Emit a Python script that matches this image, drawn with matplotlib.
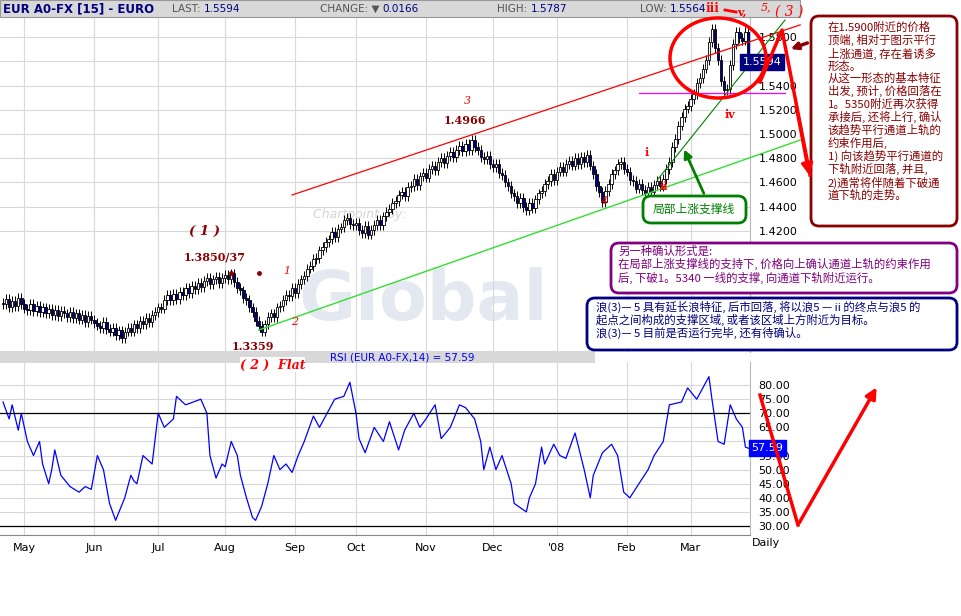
import numpy as np
import pandas as pd
import matplotlib
matplotlib.use("Agg")
import matplotlib.pyplot as plt
from matplotlib.patches import FancyBboxPatch, Rectangle, Ellipse

CJK = "Noto Sans CJK SC"

closes = [1.360,1.364,1.357,1.362,1.358,1.365,1.360,1.356,
1.355,1.360,1.354,1.358,1.353,1.357,1.352,1.356,1.351,1.355,1.350,1.354,1.352,
1.349,1.353,1.348,1.352,1.347,1.351,1.345,1.350,1.347,1.344,
1.342,1.340,1.345,1.339,1.337,1.340,1.334,1.338,1.332,
1.337,1.340,1.337,1.343,1.340,1.346,1.343,1.348,1.345,1.351,
1.353,1.357,1.356,1.363,1.367,
1.363,1.368,1.364,1.370,1.367,1.373,1.369,1.375,1.372,1.377,1.374,1.379,
1.381,1.376,1.380,1.382,1.377,1.381,1.384,1.380,1.385,
1.378,1.373,1.371,1.365,1.363,
1.357,1.353,1.346,1.342,1.337,
1.343,1.349,1.352,1.349,1.357,1.358,1.363,
1.367,1.366,1.373,1.369,1.376,
1.380,1.383,1.389,1.391,1.397,1.398,1.404,1.407,
1.411,1.413,1.419,1.415,1.422,1.423,1.429,1.431,
1.426,1.425,1.427,1.421,1.418,1.424,1.417,1.421,
1.425,1.429,1.425,1.432,1.436,1.438,1.443,1.445,1.450,1.452,
1.449,1.456,1.457,1.463,1.458,1.465,1.468,1.464,1.471,1.474,
1.470,1.477,1.480,1.476,1.482,1.485,1.481,1.487,1.490,1.486,1.492,1.487,1.495,
1.489,1.487,1.481,1.479,1.482,1.475,1.473,1.475,1.468,1.466,
1.460,1.457,1.451,1.449,1.443,1.447,1.440,1.437,
1.443,1.439,1.446,1.451,1.453,1.459,1.461,1.467,
1.462,1.469,1.473,1.469,1.475,1.478,1.474,1.480,1.475,1.481,1.477,1.483,
1.474,1.467,1.457,1.452,1.444,
1.453,1.459,1.467,1.470,1.475,1.477,
1.471,1.469,1.462,1.461,1.455,1.459,1.454,
1.451,1.456,1.452,1.458,1.461,1.457,1.463,
1.471,1.477,1.489,1.496,1.507,1.514,
1.521,1.523,1.529,1.533,1.542,1.546,1.554,
1.561,1.576,1.587,
1.571,1.561,1.544,1.536,
1.537,1.557,1.574,1.584,
1.579,1.577,1.584,1.5594]
start_open = 1.361
wick = 0.004

rsi_idx = [0,2,3,5,6,7,8,10,12,13,15,16,17,19,22,25,27,29,31,33,35,37,40,42,43,44,46,49,51,53,56,57,60,65,67,68,70,72,73,75,77,78,80,82,83,85,87,89,91,93,95,97,99,102,104,107,109,112,114,116,117,119,122,125,127,130,132,135,137,139,142,144,147,150,152,155,157,158,160,162,164,167,168,172,173,175,177,178,181,183,185,187,188,191,193,194,197,200,202,204,206,209,212,214,217,219,223,225,228,232,233,235,237,239,241,243,244,245]
rsi_val = [74,68,73,64,70,65,60,55,60,52,45,50,57,48,44,42,44,43,55,50,38,32,40,48,46,45,55,52,70,65,68,76,73,75,70,55,47,52,51,60,55,48,40,33,32,37,45,55,50,52,49,55,60,69,65,71,75,76,81,70,61,56,65,60,67,57,64,70,65,68,73,61,65,73,72,68,60,50,58,50,55,45,38,35,40,45,58,52,59,55,54,60,63,50,40,48,56,59,55,42,40,45,50,55,60,73,74,79,75,83,75,60,59,73,68,65,58,57.59]

month_labels = ["May","Jun","Jul","Aug","Sep","Oct","Nov","Dec","'08","Feb","Mar"]
price_ticks = [1.42,1.44,1.46,1.48,1.50,1.52,1.54,1.56,1.58]
rsi_ticks = [30,35,40,45,50,55,60,65,70,75,80]

# channel lines (index, price)
upper_chan = ([95, 262], [1.4497, 1.5900])
lower_chan = ([84, 262], [1.3383, 1.4950])
local_support = ([215, 257], [1.4620, 1.5940])
neck_level = 1.5340

dates = pd.bdate_range("2007-04-20", periods=len(closes))
month_pos = [i for i in range(1, len(dates)) if dates[i].month != dates[i-1].month]

W, H = 962, 616
fig = plt.figure(figsize=(W/100, H/100), dpi=100)
def rect(x0, y0, x1, y1):
    return [x0/W, 1-y1/H, (x1-x0)/W, (y1-y0)/H]

XL = (-1, 245.5)
NAVY = "#000080"

ax = fig.add_axes(rect(0, 17, 750, 352))
opens = [start_open] + closes[:-1]
for i, (o, c) in enumerate(zip(opens, closes)):
    hi, lo = max(o, c) + wick, min(o, c) - wick
    ax.vlines(i, lo, hi, color="black", lw=0.7, zorder=2)
    up = c >= o
    ax.bar(i, max(abs(c-o), 0.0006), bottom=min(o, c), width=0.8,
           color="white" if up else NAVY, edgecolor="black", lw=0.6, zorder=3)
ax.set_xlim(*XL)
ax.set_ylim(1.3202, 1.5965)
ax.set_xticks(month_pos)
ax.set_xticklabels([])
ax.set_yticks(price_ticks)
ax.yaxis.tick_right()
ax.set_yticklabels([("" if abs(t-1.56) < 1e-9 else f"{t:.4f}") for t in price_ticks], fontsize=8)
ax.tick_params(length=0, pad=6)
ax.grid(True, color="#d8d8d8", lw=0.8)
for s in ax.spines.values():
    s.set_visible(False)
ax.spines["right"].set_visible(True); ax.spines["right"].set_color("#bbbbbb")
ax.plot(*upper_chan, color="red", lw=0.9, zorder=4, clip_on=False)
ax.plot(*lower_chan, color="#33dd33", lw=1.0, zorder=4, clip_on=False)
ax.plot(*local_support, color="green", lw=0.8, zorder=4, clip_on=False)
ax.plot([209, 257], [neck_level, neck_level], color="magenta", lw=0.9, zorder=4, clip_on=False)
ax.plot([75, 84], [1.3850, 1.3850], ls="none", marker="o", ms=2.5, color="#8b0000", zorder=5)
ax.text(243, 1.5594, "1.5594", fontsize=8, color="white", va="center",
        bbox=dict(boxstyle="square,pad=0.25", fc=NAVY, ec=NAVY), zorder=6, clip_on=False)
ax.text(138, 1.363, "Global", fontsize=50, fontweight="bold", color="#e4e8f0", ha="center",
        va="center", zorder=1)
ax.text(102, 1.431, "Chartpoint  by:", fontsize=9, style="italic", color="#d4d4d4", zorder=1)

ax2 = fig.add_axes(rect(0, 362, 750, 535))
ax2.plot(rsi_idx, rsi_val, color="blue", lw=0.9)
ax2.axhline(70, color="black", lw=0.9)
ax2.axhline(30, color="black", lw=0.9)
ax2.set_xlim(*XL)
ax2.set_ylim(26.8, 88.2)
ax2.set_yticks(rsi_ticks)
ax2.yaxis.tick_right()
ax2.set_yticklabels([("" if t == 60 else f"{t:.2f}") for t in rsi_ticks], fontsize=8)
ax2.set_xticks(month_pos)
ax2.set_xticklabels(month_labels, fontsize=8, ha="center")
ax2.tick_params(length=0, pad=6)
ax2.grid(True, color="#d8d8d8", lw=0.8)
for s in ax2.spines.values():
    s.set_visible(False)
ax2.spines["right"].set_visible(True); ax2.spines["right"].set_color("#bbbbbb")
ax2.spines["bottom"].set_visible(True); ax2.spines["bottom"].set_color("#888888")
ax2.text(246, rsi_val[-1], "57.59", fontsize=8, color="white", va="center",
         bbox=dict(boxstyle="square,pad=0.25", fc="blue", ec="blue"), clip_on=False)

ov = fig.add_axes([0, 0, 1, 1], zorder=10)
ov.set_xlim(0, W); ov.set_ylim(H, 0); ov.axis("off")
ov.add_patch(Rectangle((0, 0), 800, 17, fc="#d8d8d8", ec="#999999", lw=0.8))
ov.text(3, 9, "EUR A0-FX [15] - EURO", fontsize=8.5, fontweight="bold", color=NAVY, va="center")
for xx, lab, val in [(172, "LAST: ", "1.5594"), (320, "CHANGE: \u25bc ", "0.0166"),
                     (497, "HIGH: ", "1.5787"), (640, "LOW: ", "1.5564")]:
    tt = ov.text(xx, 9, lab, fontsize=7.5, color="#555555", va="center")
    ov.annotate(val, xy=(1, 0.5), xycoords=tt, fontsize=7.5, color=NAVY, va="center")
ov.add_patch(Rectangle((0, 351), 595, 12, fc="#d8d8d8", ec="none"))
ov.text(330, 357, "RSI (EUR A0-FX,14) = 57.59", fontsize=7.5, color="blue", va="center")
ov.text(752, 543, "Daily", fontsize=8, va="center")

serif = "DejaVu Serif"
DR = "#8b0000"
def t(xx, yy, s, **kw):
    kw.setdefault("family", serif)
    ov.text(xx, yy, s, va="center", ha="center", **kw)
t(205, 231, "( 1 )", fontsize=9.5, style="italic", fontweight="bold", color=DR)
t(215, 257, "1.3850/37", fontsize=8, fontweight="bold", color=DR)
t(465, 121, "1.4966", fontsize=8, fontweight="bold", color=DR)
t(467, 101, "3", fontsize=8, style="italic", color="red")
t(287, 271, "1", fontsize=8, style="italic", color="red")
t(295, 322, "2", fontsize=8, style="italic", color="red")
t(604, 201, "4", fontsize=8, style="italic", color="red")
t(253, 346, "1.3359", fontsize=8, fontweight="bold", color=DR)
ov.add_patch(Rectangle((240, 357), 65, 15, fc="white", ec="none"))
t(273, 365, "( 2 )  Flat", fontsize=9, style="italic", fontweight="bold", color="red")
t(647, 152, "i", fontsize=8, fontweight="bold", color="red")
t(664, 187, "ii", fontsize=8, fontweight="bold", color="red")
t(712, 8, "iii", fontsize=8.5, fontweight="bold", color="red")
t(730, 115, "iv", fontsize=8, fontweight="bold", color="red")
t(742, 12, "v,", fontsize=8, fontweight="bold", color="red")
t(766, 7, "5,", fontsize=8, style="italic", color="red")
t(789, 12, "( 3 )", fontsize=10, style="italic", color="red")
ov.plot([725, 736], [10, 12], color="red", lw=2)

ov.add_patch(Ellipse((718, 58), 96, 80, fill=False, ec="red", lw=2.5))
ov.plot([760, 782, 810], [82, 30, 175], color="red", lw=2.5)
ov.annotate("", xy=(810, 178), xytext=(796, 105),
            arrowprops=dict(arrowstyle="-|>", color="red", lw=2.5, mutation_scale=16))
ov.plot([760, 798], [395, 525], color="red", lw=2.5)
ov.annotate("", xy=(878, 385), xytext=(798, 525),
            arrowprops=dict(arrowstyle="-|>", color="red", lw=2.5, mutation_scale=16))
ov.annotate("", xy=(788, 50), xytext=(810, 42),
            arrowprops=dict(arrowstyle="-|>", color=DR, lw=2.5, mutation_scale=10))

def box(x0, y0, x1, y1, ec):
    ov.add_patch(FancyBboxPatch((x0, y0), x1-x0, y1-y0, boxstyle="round,pad=0,rounding_size=8",
                                fc="white", ec=ec, lw=2))
box(811, 16, 957, 226, DR)
ov.text(828, 22, "在1.5900附近的价格\n顶端, 相对于图示平行\n上涨通道, 存在着诱多\n形态。\n"
        "从这一形态的基本特征\n出发, 预计, 价格回落在\n1。5350附近再次获得\n承接后, 还将上行, 确认\n"
        "该趋势平行通道上轨的\n约束作用后,\n1) 向该趋势平行通道的\n下轨附近回落, 并且,\n"
        "2)通常将伴随着下破通\n道下轨的走势。", family=CJK, fontsize=8.2, color=DR, va="top",
        linespacing=1.12)
box(643, 196, 746, 223, "green")
ov.text(694, 209, "局部上涨支撑线", family=CJK, fontsize=8.5, color="green", ha="center", va="center")
ov.annotate("", xy=(683, 147), xytext=(705, 196),
            arrowprops=dict(arrowstyle="-|>", color="green", lw=2, mutation_scale=12))
box(611, 243, 957, 293, "purple")
ov.text(618, 246, "另一种确认形式是:\n在局部上涨支撑线的支持下, 价格向上确认通道上轨的约束作用\n"
        "后, 下破1。5340 一线的支撑, 向通道下轨附近运行。", family=CJK, fontsize=8.2,
        color="purple", va="top", linespacing=1.1)
box(587, 298, 957, 350, NAVY)
ov.text(596, 301, "浪(3)— 5 具有延长浪特征, 后市回落, 将以浪5 — ii 的终点与浪5 的\n"
        "起点之间构成的支撑区域, 或者该区域上方附近为目标。\n浪(3)— 5 目前是否运行完毕, 还有待确认。",
        family=CJK, fontsize=8.2, color=NAVY, va="top", linespacing=1.1)

fig.savefig("out.png", dpi=100, facecolor="white")
